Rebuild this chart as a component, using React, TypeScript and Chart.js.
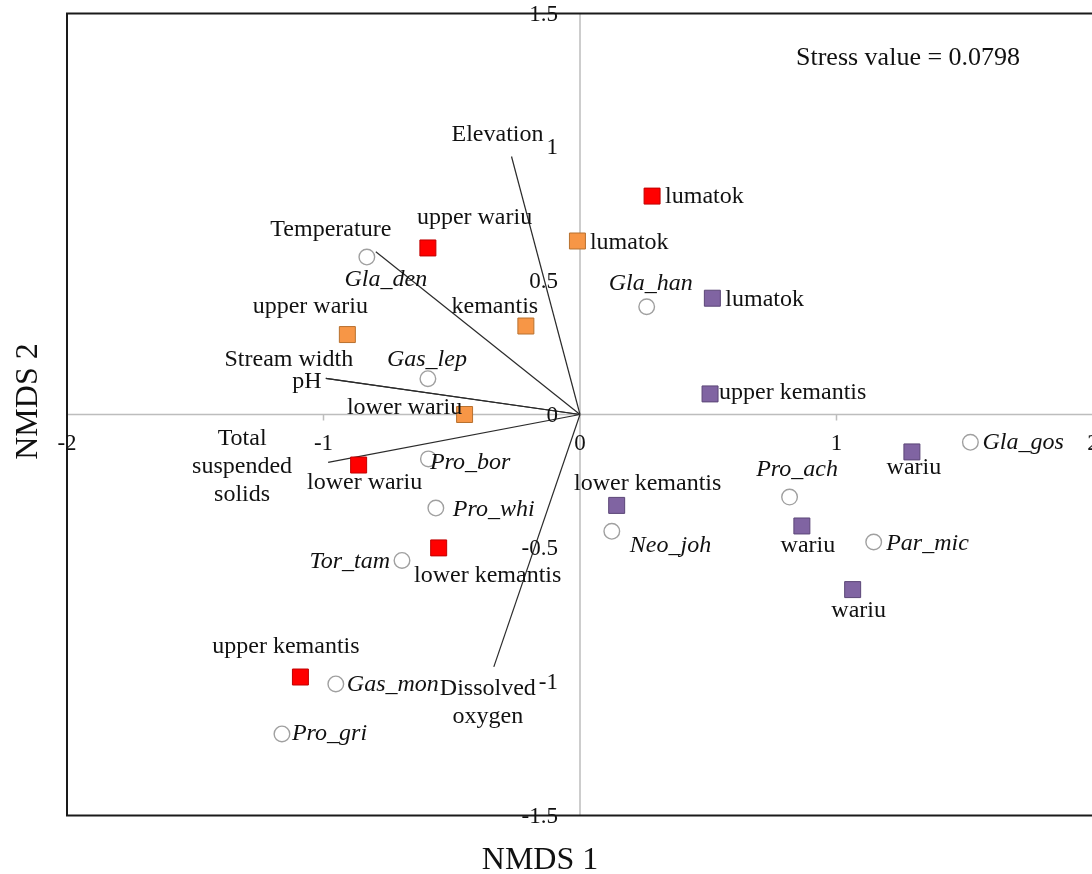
import React, { useEffect, useRef } from 'react';
import { Chart, registerables } from 'chart.js';

Chart.register(...registerables);

// ---- axis ticks ----
const xTicks = [-2, -1, 0, 1, 2];
const xTickLabels = ['-2', '-1', '0', '1', '2'];
const yTicks = [1.5, 1, 0.5, 0, -0.5, -1, -1.5];
const yTickLabels = ['1.5', '1', '0.5', '0', '-0.5', '-1', '-1.5'];

// ---- sites (NMDS 1, NMDS 2) ----
const redSiteNames = ['lumatok', 'upper wariu', 'lower wariu', 'lower kemantis', 'upper kemantis'];
const redSiteX = [0.281, -0.593, -0.863, -0.551, -1.09];
const redSiteY = [0.817, 0.623, -0.189, -0.499, -0.982];

const orangeSiteNames = ['lumatok', 'upper wariu', 'kemantis', 'lower wariu'];
const orangeSiteX = [-0.01, -0.907, -0.211, -0.45];
const orangeSiteY = [0.649, 0.299, 0.331, 0.0];

const purpleSiteNames = ['lumatok', 'upper kemantis', 'lower kemantis', 'wariu', 'wariu', 'wariu'];
const purpleSiteX = [0.516, 0.507, 0.143, 1.294, 0.865, 1.063];
const purpleSiteY = [0.435, 0.077, -0.34, -0.14, -0.417, -0.655];

// ---- species ----
const speciesNames = ['Gla_den', 'Gas_lep', 'Pro_bor', 'Pro_whi', 'Tor_tam', 'Gas_mon', 'Pro_gri', 'Gla_han', 'Neo_joh', 'Pro_ach', 'Par_mic', 'Gla_gos'];
const speciesX = [-0.831, -0.593, -0.591, -0.562, -0.694, -0.952, -1.162, 0.26, 0.124, 0.817, 1.145, 1.522];
const speciesY = [0.589, 0.134, -0.166, -0.35, -0.546, -1.008, -1.195, 0.403, -0.437, -0.309, -0.477, -0.104];

// ---- environmental vectors ----
const vectorNames = ['Elevation', 'Temperature', 'Stream width', 'pH', 'Total suspended solids', 'Dissolved oxygen'];
const vectorLabelLines = [['Elevation'], ['Temperature'], ['Stream width'], ['pH'], ['Total', 'suspended', 'solids'], ['Dissolved', 'oxygen']];
const vectorX = [-0.267, -0.796, -0.991, -0.991, -0.982, -0.336];
const vectorY = [0.965, 0.609, 0.135, 0.135, -0.179, -0.944];

const stressText = 'Stress value = 0.0798';
const xTitle = 'NMDS 1';
const yTitle = 'NMDS 2';

// ---- label placement (layout only: pixel offsets from the mark) ----
type Place = [CanvasTextAlign, number, number];
const redLabelPlace: Place[] = [['left', 13, 1], ['left', -11, -30], ['center', 6, 18], ['center', 49, 28], ['center', -14.5, -30]];
const orangeLabelPlace: Place[] = [['left', 12.5, 2], ['center', -37, -27.5], ['center', -31, -19], ['center', -60, -7]];
const purpleLabelPlace: Place[] = [['left', 13, 1], ['left', 9, -1], ['center', 31, -22], ['center', 2, 16], ['center', 6, 20], ['center', 6, 21]];
const speciesLabelPlace: Place[] = [
  ['center', 19, 23], ['center', -1, -19], ['left', 1.5, 4], ['left', 17, 2], ['right', -12, 1], ['left', 11, 1],
  ['left', 10, 0], ['center', 4, -23], ['left', 18, 14], ['center', 7.5, -27], ['left', 12.5, 2], ['left', 12, 0],
];
const vectorLabelPlace: Place[] = [['center', -14, -22], ['center', -45, -22], ['center', -37, -18.4], ['center', -19, 3], ['center', -86, -24], ['center', -6, 22]];

const FONT = '"Liberation Serif", "Times New Roman", serif';
const TEXT = '#111111';

const toPts = (xs: number[], ys: number[]) => xs.map((x, i) => ({ x, y: ys[i] }));

export default function App() {
  const ref = useRef<HTMLCanvasElement | null>(null);

  useEffect(() => {
    if (!ref.current) return;

    const overlay = {
      id: 'nmdsOverlay',
      beforeDatasetsDraw(chart: any) {
        const { ctx, chartArea: ca, scales } = chart;
        const xs = scales.x, ys = scales.y;
        const x0 = xs.getPixelForValue(0);
        const y0 = ys.getPixelForValue(0);
        ctx.save();
        ctx.strokeStyle = '#BDBDBD';
        ctx.lineWidth = 1.5;
        ctx.beginPath();
        ctx.moveTo(x0, ca.top);
        ctx.lineTo(x0, ca.bottom);
        ctx.moveTo(ca.left, y0);
        ctx.lineTo(ca.right, y0);
        xTicks.forEach((v) => {
          const px = xs.getPixelForValue(v);
          ctx.moveTo(px, y0);
          ctx.lineTo(px, y0 + 6);
        });
        ctx.stroke();
        ctx.strokeStyle = '#1a1a1a';
        ctx.lineWidth = 2;
        ctx.strokeRect(ca.left, ca.top, ca.right - ca.left, ca.bottom - ca.top);
        ctx.restore();
      },
      afterDatasetsDraw(chart: any) {
        const { ctx, scales } = chart;
        const xs = scales.x, ys = scales.y;
        const x0 = xs.getPixelForValue(0);
        const y0 = ys.getPixelForValue(0);
        ctx.save();
        ctx.fillStyle = TEXT;
        ctx.textBaseline = 'middle';

        // tick labels
        ctx.font = `23px ${FONT}`;
        ctx.textAlign = 'center';
        xTicks.forEach((v, i) => ctx.fillText(xTickLabels[i], xs.getPixelForValue(v), y0 + 29));
        ctx.textAlign = 'right';
        yTicks.forEach((v, i) => ctx.fillText(yTickLabels[i], x0 - 22, ys.getPixelForValue(v) + 1));

        const drawLabels = (names: string[], X: number[], Y: number[], place: Place[], italic: boolean) => {
          ctx.font = `${italic ? 'italic ' : ''}24px ${FONT}`;
          names.forEach((n, i) => {
            const [align, dx, dy] = place[i];
            ctx.textAlign = align;
            ctx.fillText(n, xs.getPixelForValue(X[i]) + dx, ys.getPixelForValue(Y[i]) + dy);
          });
        };
        drawLabels(redSiteNames, redSiteX, redSiteY, redLabelPlace, false);
        drawLabels(orangeSiteNames, orangeSiteX, orangeSiteY, orangeLabelPlace, false);
        drawLabels(purpleSiteNames, purpleSiteX, purpleSiteY, purpleLabelPlace, false);
        drawLabels(speciesNames, speciesX, speciesY, speciesLabelPlace, true);

        // vector labels
        ctx.font = `24px ${FONT}`;
        vectorLabelLines.forEach((lines, i) => {
          const [align, dx, dy] = vectorLabelPlace[i];
          ctx.textAlign = align;
          const px = xs.getPixelForValue(vectorX[i]) + dx;
          const py = ys.getPixelForValue(vectorY[i]) + dy;
          lines.forEach((l, k) => ctx.fillText(l, px, py + k * 28));
        });

        // stress value
        ctx.font = `26px ${FONT}`;
        ctx.textAlign = 'left';
        ctx.fillText(stressText, 796, 58);

        // axis titles
        ctx.font = `32px ${FONT}`;
        ctx.textBaseline = 'alphabetic';
        ctx.textAlign = 'center';
        ctx.fillText(xTitle, 540, 869);
        ctx.translate(37, 401.5);
        ctx.rotate(-Math.PI / 2);
        ctx.fillText(yTitle, 0, 0);
        ctx.restore();
      },
    };

    const squareDs = (label: string, X: number[], Y: number[], fill: string, border: string) => ({
      label,
      data: toPts(X, Y),
      pointStyle: 'rect',
      pointRadius: 11.3,
      backgroundColor: fill,
      borderColor: border,
      borderWidth: 1,
      showLine: false,
    });

    const datasets: any[] = [
      squareDs('red sites', redSiteX, redSiteY, '#FF0000', '#C00000'),
      squareDs('orange sites', orangeSiteX, orangeSiteY, '#F79646', '#B8712F'),
      squareDs('purple sites', purpleSiteX, purpleSiteY, '#8064A2', '#5B4677'),
      {
        label: 'species',
        data: toPts(speciesX, speciesY),
        pointStyle: 'circle',
        pointRadius: 7.8,
        backgroundColor: '#FFFFFF',
        borderColor: '#A0A0A0',
        borderWidth: 1.4,
        showLine: false,
      },
      ...vectorNames.map((n, i) => ({
        label: n,
        data: [{ x: 0, y: 0 }, { x: vectorX[i], y: vectorY[i] }],
        showLine: true,
        pointRadius: 0,
        borderColor: '#2b2b2b',
        borderWidth: 1.2,
        fill: false,
      })),
    ];

    const chart = new Chart(ref.current, {
      type: 'scatter',
      data: { datasets },
      options: {
        animation: false,
        responsive: false,
        devicePixelRatio: 1,
        events: [],
        layout: { padding: { left: 67, top: 13.5, right: 27, bottom: 58.5 } },
        plugins: { legend: { display: false }, tooltip: { enabled: false } },
        scales: {
          x: { type: 'linear', min: -2, max: 2, display: false },
          y: { type: 'linear', min: -1.5, max: 1.5, display: false },
        },
      },
      plugins: [overlay],
    } as any);

    return () => chart.destroy();
  }, []);

  return (
    <div style={{ position: 'absolute', left: 0, top: 0, width: 1092, height: 874, overflow: 'hidden', background: '#ffffff' }}>
      <canvas ref={ref} width={1120} height={874} style={{ display: 'block' }} />
    </div>
  );
}
